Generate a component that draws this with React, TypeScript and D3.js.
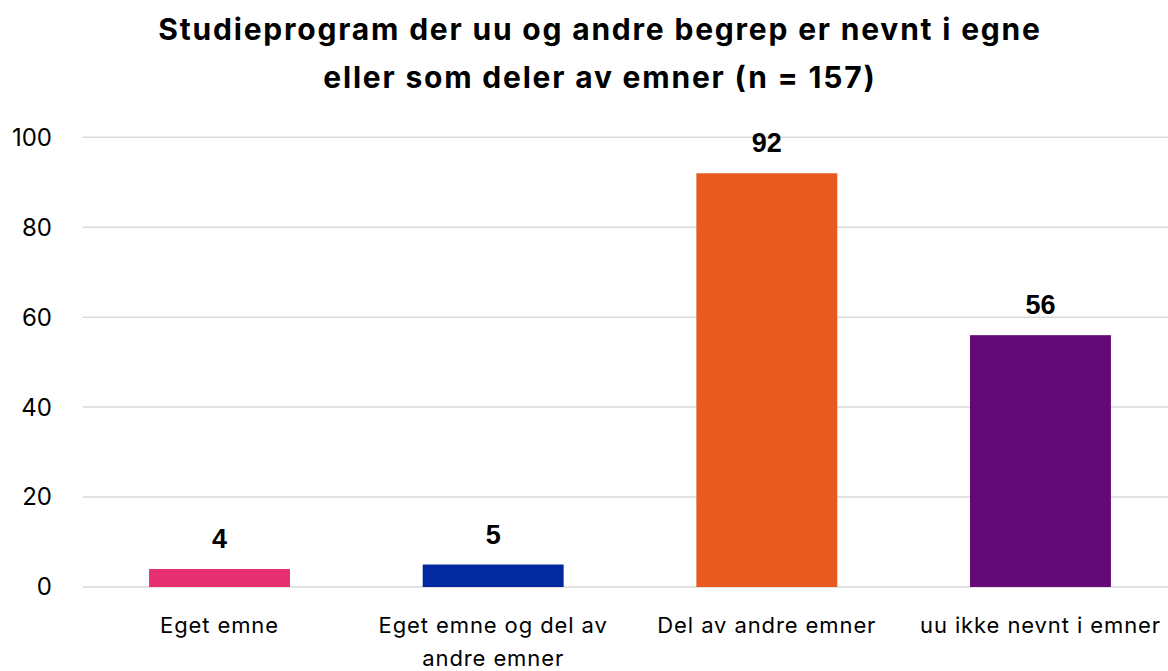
import * as d3 from 'd3'

// Chart data
const categories = ['Eget emne', 'Eget emne og del av andre emner', 'Del av andre emner', 'uu ikke nevnt i emner']
const categoryLines = [['Eget emne'], ['Eget emne og del av', 'andre emner'], ['Del av andre emner'], ['uu ikke nevnt i emner']]
const values = [4, 5, 92, 56]
const barColors = ['#E63071', '#0229A0', '#E85A1F', '#640A76']
const yTicks = [0, 20, 40, 60, 80, 100]
const titleLines = ['Studieprogram der uu og andre begrep er nevnt i egne', 'eller som deler av emner (n = 157)']

const width = 1168
const height = 671
const font = 'Inter, "Noto Sans", sans-serif'

export default function App() {
  const margin = { top: 137, bottom: 84, left: 82.7 }
  const plotBottom = height - margin.bottom

  const x = d3
    .scaleBand<string>()
    .domain(categories)
    .range([margin.left, 1177.3])
    .paddingInner(0.485)
    .paddingOuter(0.2425)

  const y = d3.scaleLinear().domain([0, 100]).range([plotBottom, margin.top + 0.3])

  return (
    <svg
      width={width}
      height={height}
      style={{ position: 'absolute', left: 0, top: 0, background: '#fff' }}
      fontFamily={font}
    >
      {/* Title */}
      {titleLines.map((line, i) => (
        <text
          key={line}
          x={600}
          y={40 + i * 48}
          textAnchor="middle"
          fontSize={30}
          fontWeight={700}
          letterSpacing={1.8}
          fill="#000"
        >
          {line}
        </text>
      ))}

      {/* Gridlines + y ticks */}
      {yTicks.map(t => (
        <g key={t}>
          <line x1={margin.left} x2={width} y1={y(t)} y2={y(t)} stroke="#d9d9d9" strokeWidth={1.5} />
          <text x={52} y={y(t)} dy="0.35em" textAnchor="end" fontSize={24} fill="#000">
            {t}
          </text>
        </g>
      ))}

      {/* Bars */}
      {categories.map((c, i) => (
        <rect
          key={c}
          x={x(c)}
          y={y(values[i])}
          width={x.bandwidth()}
          height={plotBottom - y(values[i])}
          fill={barColors[i]}
        />
      ))}

      {/* Value labels */}
      {categories.map((c, i) => (
        <text
          key={c}
          x={(x(c) ?? 0) + x.bandwidth() / 2}
          y={y(values[i]) - 21}
          textAnchor="middle"
          fontSize={27}
          fontWeight={700}
          fontFamily='"Liberation Sans", Arial, sans-serif'
          fill="#000"
        >
          {values[i]}
        </text>
      ))}

      {/* Category labels */}
      {categories.map((c, i) => (
        <text
          key={c}
          x={(x(c) ?? 0) + x.bandwidth() / 2}
          y={633}
          textAnchor="middle"
          fontSize={22}
          letterSpacing={0.9}
          fill="#000"
        >
          {categoryLines[i].map((l, j) => (
            <tspan key={l} x={(x(c) ?? 0) + x.bandwidth() / 2} dy={j === 0 ? 0 : 33}>
              {l}
            </tspan>
          ))}
        </text>
      ))}
    </svg>
  )
}
